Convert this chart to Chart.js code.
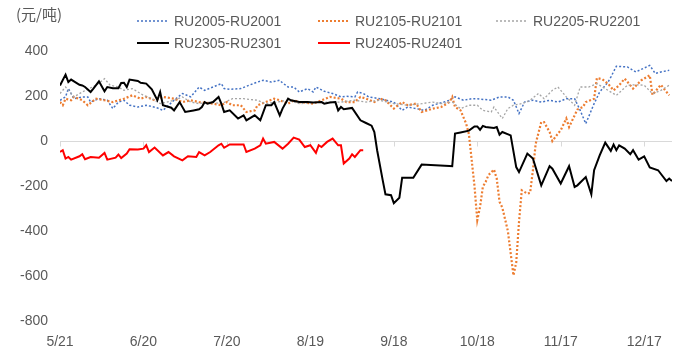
<!DOCTYPE html>
<html>
<head>
<meta charset="utf-8">
<script src="https://cdn.jsdelivr.net/npm/chart.js@4.4.1/dist/chart.umd.min.js"></script>
<style>
  html, body { margin: 0; padding: 0; background: #ffffff; }
  #wrap { width: 690px; height: 358px; position: relative; }
</style>
</head>
<body>
<div id="wrap"><canvas id="c" width="690" height="358"></canvas></div>
<script>
// ---- Data (day offsets from 5/21, values in 元/吨) ----
const tickLabels = ['5/21','6/20','7/20','8/19','9/18','10/18','11/17','12/17'];
const seriesNames = ['RU2005-RU2001','RU2105-RU2101','RU2205-RU2201','RU2305-RU2301','RU2405-RU2401'];

const ru2005Days = [0,2,3,4,5,8,10,11,14,17,19,21,23,25,28,31,35,37,41,44,47,50,52,55,58,59,61,65,68,71,73,76,79,80,82,84,86,89,91,92,95,98,101,103,106,107,109,111,115,120,123,125,128,131,134,138,140,142,145,148,150,155,158,161,163,165,167,170,173,176,179,182,185,187,189,192,194,197,198,200,204,207,212,214,216,219];
const ru2005Vals = [181,196,233,211,188,196,196,173,188,181,144,173,181,159,151,159,147,136,181,211,196,240,225,240,255,233,230,233,248,262,270,262,270,258,240,240,218,233,218,240,221,211,196,199,196,218,211,196,188,173,136,151,144,136,159,173,181,196,181,188,188,181,196,196,181,122,173,181,173,181,173,188,188,136,77,166,218,262,284,332,329,307,336,300,307,314];

const ru2105Days = [0,1,2,4,5,8,10,13,16,19,23,26,29,31,34,37,41,44,47,50,55,58,60,62,65,67,70,71,74,77,79,82,84,86,91,94,97,101,103,106,108,110,113,115,117,120,123,125,128,130,132,134,137,140,141,142,144,146,147,148,149,150,151,152,153,154,156,157,158,159,161,163,164,165,166,168,169,170,171,173,174,176,177,179,180,182,183,186,188,189,192,193,195,197,199,201,203,206,209,212,213,216,219];
const ru2105Vals = [173,159,188,181,196,181,159,188,181,173,188,203,188,196,181,196,188,173,181,173,166,159,173,159,159,129,136,159,173,188,181,166,181,173,166,181,196,188,173,173,196,188,173,188,181,144,173,159,166,129,136,144,151,173,196,151,136,77,30,-86,-200,-352,-293,-204,-182,-152,-127,-167,-270,-296,-400,-597,-540,-360,-219,-234,-230,-130,-12,84,84,40,0,33,48,100,62,140,151,173,188,280,274,255,225,248,277,233,270,292,205,250,203];

const ru2205Days = [0,2,5,8,13,16,18,21,23,26,30,33,36,41,44,47,50,54,58,62,66,71,74,82,86,94,101,106,110,115,120,125,130,134,137,141,144,147,150,152,155,156,159,161,163,166,169,172,174,177,179,182,185,187,190,193,197,200,204,207,210,213,216,219];
const ru2205Vals = [211,240,196,218,248,277,248,240,225,233,203,188,166,181,196,173,166,173,166,188,188,181,166,181,166,173,173,181,173,181,166,159,166,173,166,173,144,159,159,136,129,151,100,144,159,166,181,211,188,225,240,196,159,240,240,255,225,203,248,250,248,210,225,248];

const ru2305Days = [0,2,3,4,7,8,9,11,12,14,16,17,19,21,22,23,24,25,28,29,31,33,35,36,37,40,41,43,45,48,50,51,52,53,55,57,58,59,61,64,66,67,70,72,74,76,77,79,80,82,83,86,89,91,94,95,97,99,100,101,102,105,108,110,112,113,114,116,117,119,120,122,123,127,130,140,141,142,144,147,149,150,151,152,153,156,157,158,159,162,164,165,168,170,173,176,177,180,183,185,186,189,191,192,194,196,198,199,200,201,203,205,206,208,210,212,215,218,219,220];
const ru2305Vals = [247,295,262,273,250,247,240,218,233,265,221,240,235,235,258,259,240,273,267,259,255,230,181,218,159,148,136,173,129,136,141,151,173,166,173,196,166,129,136,100,114,92,114,92,159,159,173,114,144,188,181,173,173,171,173,166,171,173,136,151,141,147,92,80,68,40,-41,-174,-237,-241,-276,-252,-163,-163,-105,-111,-112,33,38,46,65,65,50,67,62,58,62,28,40,25,-116,-138,-56,-78,-197,-112,-123,-189,-112,-204,-197,-160,-237,-130,-64,-7,-44,-16,-41,-19,-34,-59,-41,-83,-68,-118,-130,-178,-167,-178];

const ru2405Days = [0,1,2,3,4,7,8,9,11,14,16,17,20,21,22,24,25,28,30,31,32,34,37,39,41,44,46,49,50,52,54,57,58,59,61,64,66,67,70,72,73,74,77,80,82,84,86,88,90,92,93,94,96,98,100,101,102,104,105,106,108,109];
const ru2405Vals = [-49,-41,-78,-71,-83,-68,-59,-81,-71,-74,-53,-83,-74,-60,-76,-56,-37,-38,-34,-19,-49,-29,-64,-49,-68,-86,-68,-71,-49,-64,-49,-19,-12,-30,-15,-15,-15,-49,-34,-19,11,-12,-4,-34,-12,15,6,-27,-19,-53,-19,-27,-4,11,-19,-19,-100,-78,-59,-71,-41,-41];

const yMin = -800, yMax = 400, yStep = 200;
const xMin = 0, xMax = 220, xStep = 30;

// ---- Build ----
function pts(days, vals) { return days.map((d, i) => ({ x: d, y: vals[i] })); }

const styles = [
  { color: '#4472C4', width: 1.5, dash: [2, 2], order: 5 },
  { color: '#ED7D31', width: 2.2, dash: [2, 2], order: 4 },
  { color: '#A5A5A5', width: 1.3, dash: [2, 2], order: 3 },
  { color: '#000000', width: 2, dash: [], order: 2 },
  { color: '#FF0000', width: 2, dash: [], order: 1 }
];
const allDays = [ru2005Days, ru2105Days, ru2205Days, ru2305Days, ru2405Days];
const allVals = [ru2005Vals, ru2105Vals, ru2205Vals, ru2305Vals, ru2405Vals];

const datasets = seriesNames.map((name, i) => ({
  label: name,
  data: pts(allDays[i], allVals[i]),
  borderColor: styles[i].color,
  backgroundColor: styles[i].color,
  borderWidth: styles[i].width,
  borderDash: styles[i].dash,
  pointRadius: 0,
  pointHoverRadius: 0,
  tension: 0,
  fill: false,
  order: styles[i].order
}));

const FONT = "'Liberation Sans', Arial, sans-serif";
const TEXT = '#595959';

const legendPos = [
  { x: 137, y: 21 }, { x: 318, y: 21 }, { x: 496, y: 21 },
  { x: 137, y: 43 }, { x: 318, y: 43 }
];

const customLegend = {
  id: 'customLegend',
  afterDraw(chart) {
    const ctx = chart.ctx;
    ctx.save();
    ctx.fillStyle = TEXT;
    ctx.font = "15px 'Noto Sans CJK SC', sans-serif";
    ctx.textBaseline = 'middle';
    ctx.textAlign = 'left';
    ctx.fillText('(元/吨)', 16, 14);
    chart.data.datasets.forEach((ds, i) => {
      const p = legendPos[i];
      ctx.beginPath();
      ctx.strokeStyle = ds.borderColor;
      ctx.lineWidth = ds.borderWidth;
      ctx.setLineDash(ds.borderDash || []);
      ctx.moveTo(p.x, p.y);
      ctx.lineTo(p.x + 32, p.y);
      ctx.stroke();
      ctx.setLineDash([]);
      ctx.fillStyle = TEXT;
      ctx.font = '14px ' + FONT;
      ctx.textBaseline = 'middle';
      ctx.fillText(ds.label, p.x + 37, p.y + 1);
    });
    ctx.restore();
  }
};

const zeroTicks = {
  id: 'zeroTicks',
  beforeDatasetsDraw(chart) {
    const xs = chart.scales.x, ys = chart.scales.y;
    const y0 = Math.round(ys.getPixelForValue(0)) + 0.5;
    const ctx = chart.ctx;
    ctx.save();
    ctx.strokeStyle = '#d9d9d9';
    ctx.lineWidth = 1;
    ctx.beginPath();
    xs.ticks.forEach(t => {
      const px = Math.round(xs.getPixelForValue(t.value)) + 0.5;
      ctx.moveTo(px, y0);
      ctx.lineTo(px, y0 + 5);
    });
    ctx.stroke();
    ctx.restore();
  }
};

new Chart(document.getElementById('c'), {
  type: 'line',
  data: { datasets },
  options: {
    responsive: false,
    animation: false,
    events: [],
    layout: { padding: { top: 51, right: 18, left: 0, bottom: 0 } },
    plugins: { legend: { display: false }, tooltip: { enabled: false }, title: { display: false } },
    scales: {
      x: {
        type: 'linear',
        min: xMin, max: xMax,
        afterBuildTicks: s => { s.ticks = tickLabels.map((_, i) => ({ value: xMin + i * xStep })); },
        ticks: {
          autoSkip: false, maxRotation: 0, padding: 13,
          color: TEXT, font: { family: FONT, size: 14 },
          callback: v => tickLabels[Math.round((v - xMin) / xStep)] || ''
        },
        grid: { display: false, drawTicks: false },
        border: { display: false },
        afterFit: s => { s.height = 37; }
      },
      y: {
        min: yMin, max: yMax,
        ticks: { stepSize: yStep, padding: 12, color: TEXT, font: { family: FONT, size: 14 } },
        grid: {
          drawTicks: false,
          color: c => (c.tick && c.tick.value === 0) ? '#d9d9d9' : 'rgba(0,0,0,0)',
          lineWidth: 1
        },
        border: { display: false },
        afterFit: s => { s.width = 60; }
      }
    }
  },
  plugins: [customLegend, zeroTicks]
});
</script>
</body>
</html>
